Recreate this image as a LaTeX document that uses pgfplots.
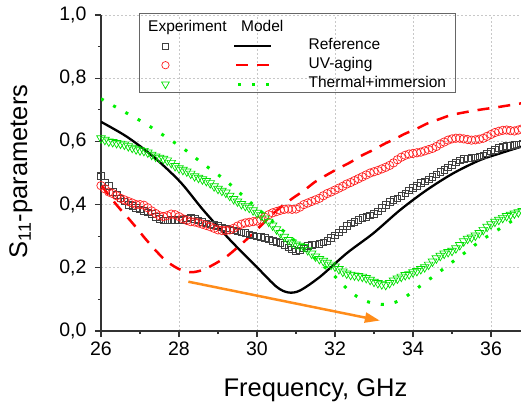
\documentclass[border=0pt]{standalone}
\usepackage{fontspec}
\setmainfont{Liberation Sans}
\usepackage{pgfplots}
\pgfplotsset{compat=1.18}
\usetikzlibrary{arrows.meta}
\definecolor{expgray}{HTML}{404040}
\definecolor{expred}{HTML}{FF2020}
\definecolor{expgreen}{HTML}{00E000}
\definecolor{modgreen}{HTML}{00F000}
\definecolor{arroworange}{HTML}{FF8C1A}
\definecolor{gridgray}{HTML}{C8C8C8}

\begin{document}
\begin{tikzpicture}
\begin{axis}[
    scale only axis,
    width=429pt, height=316pt,
    xmin=26, xmax=37, ymin=0, ymax=1,
    axis x line*=bottom, axis y line*=left,
    axis line style={-, line width=1.3pt, black!80},
    xtick={26,28,...,36}, ytick={0,0.2,...,1.0},
    minor x tick num=1, minor y tick num=1,
    tick align=outside,
    major tick length=6pt, minor tick length=3pt,
    every tick/.style={line width=1.2pt, black!80},
    grid=major,
    major grid style={gridgray, dash pattern=on 2pt off 2pt, line width=0.7pt},
    /pgf/number format/assume math mode=true,
    yticklabel style={xshift=-5pt, /pgf/number format/.cd, use comma, fixed, fixed zerofill, precision=1},
    xticklabel style={yshift=-1pt},
    ticklabel style={font=\fontsize{19.5}{20}\selectfont},
    xlabel={Frequency, GHz},
    ylabel={S\textsubscript{11}-parameters},
    label style={font=\fontsize{25.5}{26}\selectfont},
    xlabel style={at={(axis description cs:0.5,0)}, anchor=base, yshift=-65pt},
    ylabel style={at={(axis description cs:-0.1865,0.505)}, anchor=center},
    legend style={at={(rel axis cs:0.133,0.932)}, anchor=north west,
        draw=none, fill=none, inner sep=0pt, row sep=0pt, column sep=0pt,
        font=\fontsize{15.5}{16}\selectfont,
        nodes={inner sep=2pt, text height=11pt, text depth=4pt}},
    legend cell align=left,
]
% experiment: Reference
\addplot[only marks, mark=square, mark size=3.3pt, color=expgray, mark options={line width=0.8pt}, forget plot] table {
26.0 0.490
26.1 0.470
26.2 0.460
26.3 0.440
26.4 0.430
26.5 0.420
26.6 0.410
26.7 0.400
26.8 0.395
26.9 0.390
27.0 0.385
27.1 0.380
27.2 0.375
27.3 0.370
27.4 0.362
27.5 0.355
27.6 0.350
27.7 0.350
27.8 0.352
27.9 0.352
28.0 0.350
28.1 0.352
28.2 0.356
28.3 0.360
28.4 0.355
28.5 0.350
28.6 0.345
28.7 0.340
28.8 0.337
28.9 0.335
29.0 0.332
29.1 0.328
29.2 0.325
29.3 0.320
29.4 0.318
29.5 0.315
29.6 0.312
29.7 0.310
29.8 0.306
29.9 0.302
30.0 0.300
30.1 0.298
30.2 0.295
30.3 0.290
30.4 0.285
30.5 0.282
30.6 0.278
30.7 0.272
30.8 0.265
30.9 0.258
31.0 0.252
31.1 0.255
31.2 0.262
31.3 0.270
31.4 0.272
31.5 0.274
31.6 0.276
31.7 0.280
31.8 0.285
31.9 0.295
32.0 0.302
32.1 0.312
32.2 0.322
32.3 0.332
32.4 0.340
32.5 0.346
32.6 0.352
32.7 0.358
32.8 0.362
32.9 0.366
33.0 0.370
33.1 0.378
33.2 0.390
33.3 0.400
33.4 0.408
33.5 0.414
33.6 0.420
33.7 0.428
33.8 0.436
33.9 0.445
34.0 0.452
34.1 0.460
34.2 0.468
34.3 0.474
34.4 0.480
34.5 0.488
34.6 0.496
34.7 0.504
34.8 0.510
34.9 0.518
35.0 0.526
35.1 0.534
35.2 0.540
35.3 0.544
35.4 0.546
35.5 0.548
35.6 0.550
35.7 0.553
35.8 0.556
35.9 0.562
36.0 0.568
36.1 0.574
36.2 0.580
36.3 0.583
36.4 0.585
36.5 0.586
36.6 0.588
36.7 0.590
36.8 0.593
};
% experiment: UV-aging
\addplot[only marks, mark=o, mark size=4.2pt, color=expred, mark options={line width=0.7pt}, forget plot] table {
26.0 0.460
26.1 0.450
26.2 0.440
26.3 0.435
26.4 0.428
26.5 0.420
26.6 0.415
26.7 0.410
26.8 0.405
26.9 0.400
27.0 0.400
27.1 0.398
27.2 0.390
27.3 0.380
27.4 0.372
27.5 0.365
27.6 0.362
27.7 0.365
27.8 0.370
27.9 0.368
28.0 0.362
28.1 0.355
28.2 0.350
28.3 0.346
28.4 0.345
28.5 0.342
28.6 0.338
28.7 0.334
28.8 0.330
28.9 0.325
29.0 0.320
29.1 0.318
29.2 0.318
29.3 0.320
29.4 0.325
29.5 0.332
29.6 0.338
29.7 0.342
29.8 0.344
29.9 0.346
30.0 0.348
30.1 0.352
30.2 0.360
30.3 0.368
30.4 0.374
30.5 0.378
30.6 0.382
30.7 0.385
30.8 0.386
30.9 0.385
31.0 0.386
31.1 0.392
31.2 0.400
31.3 0.405
31.4 0.410
31.5 0.415
31.6 0.420
31.7 0.428
31.8 0.435
31.9 0.440
32.0 0.446
32.1 0.452
32.2 0.458
32.3 0.465
32.4 0.470
32.5 0.476
32.6 0.482
32.7 0.488
32.8 0.494
32.9 0.500
33.0 0.504
33.1 0.508
33.2 0.513
33.3 0.518
33.4 0.524
33.5 0.532
33.6 0.542
33.7 0.550
33.8 0.556
33.9 0.560
34.0 0.562
34.1 0.564
34.2 0.566
34.3 0.570
34.4 0.574
34.5 0.578
34.6 0.584
34.7 0.592
34.8 0.598
34.9 0.604
35.0 0.608
35.1 0.610
35.2 0.610
35.3 0.608
35.4 0.606
35.5 0.604
35.6 0.605
35.7 0.607
35.8 0.610
35.9 0.616
36.0 0.622
36.1 0.628
36.2 0.632
36.3 0.635
36.4 0.636
36.5 0.634
36.6 0.633
36.7 0.636
36.8 0.640
};
% experiment: Thermal+immersion
\addplot[only marks, mark=triangle, mark size=5pt, color=expgreen, mark options={rotate=180, line width=0.7pt}, forget plot] table {
26.0 0.610
26.1 0.605
26.2 0.600
26.3 0.598
26.4 0.595
26.5 0.593
26.6 0.590
26.7 0.585
26.8 0.580
26.9 0.575
27.0 0.572
27.1 0.570
27.2 0.565
27.3 0.558
27.4 0.552
27.5 0.548
27.6 0.545
27.7 0.540
27.8 0.532
27.9 0.522
28.0 0.515
28.1 0.510
28.2 0.505
28.3 0.498
28.4 0.490
28.5 0.485
28.6 0.480
28.7 0.475
28.8 0.468
28.9 0.458
29.0 0.450
29.1 0.444
29.2 0.438
29.3 0.428
29.4 0.418
29.5 0.410
29.6 0.402
29.7 0.396
29.8 0.390
29.9 0.382
30.0 0.374
30.1 0.366
30.2 0.356
30.3 0.346
30.4 0.334
30.5 0.322
30.6 0.310
30.7 0.298
30.8 0.288
30.9 0.280
31.0 0.274
31.1 0.270
31.2 0.266
31.3 0.256
31.4 0.245
31.5 0.236
31.6 0.228
31.7 0.222
31.8 0.216
31.9 0.210
32.0 0.204
32.1 0.196
32.2 0.188
32.3 0.182
32.4 0.178
32.5 0.176
32.6 0.174
32.7 0.172
32.8 0.168
32.9 0.162
33.0 0.156
33.1 0.152
33.2 0.148
33.3 0.146
33.4 0.152
33.5 0.160
33.6 0.166
33.7 0.172
33.8 0.177
33.9 0.180
34.0 0.186
34.1 0.190
34.2 0.196
34.3 0.202
34.4 0.210
34.5 0.220
34.6 0.230
34.7 0.238
34.8 0.245
34.9 0.250
35.0 0.254
35.1 0.262
35.2 0.272
35.3 0.284
35.4 0.292
35.5 0.296
35.6 0.302
35.7 0.310
35.8 0.320
35.9 0.330
36.0 0.338
36.1 0.346
36.2 0.352
36.3 0.358
36.4 0.364
36.5 0.368
36.6 0.372
36.7 0.376
36.8 0.380
};
% model: Reference
\addplot[black, line width=2.3pt, smooth, forget plot] coordinates {
(26.0,0.662) (26.66,0.615) (27.34,0.552) (28.03,0.472) (28.62,0.383)
(29.31,0.288) (29.99,0.203) (30.5,0.140) (30.8,0.122) (31.1,0.128)
(31.62,0.172) (32.3,0.246) (32.98,0.309) (33.67,0.383) (34.35,0.446)
(35.03,0.499) (35.72,0.541) (36.23,0.562) (36.77,0.583) (37.0,0.590)
};
% model: UV-aging
\addplot[red, line width=2.5pt, smooth, dash pattern=on 12pt off 9pt, forget plot] coordinates {
(26.0,0.462) (26.2,0.430) (26.44,0.393) (26.7,0.357) (26.92,0.325)
(27.13,0.293) (27.43,0.251) (27.68,0.221) (28.0,0.196) (28.3,0.186)
(28.58,0.192) (28.84,0.207) (29.18,0.232) (29.44,0.258) (29.78,0.295)
(30.03,0.325) (30.42,0.372) (30.65,0.396) (30.97,0.425) (31.19,0.443)
(31.49,0.472) (31.79,0.494) (32.08,0.514) (32.38,0.533) (32.68,0.555)
(32.98,0.573) (33.28,0.593) (33.54,0.608) (33.79,0.624) (34.09,0.640)
(34.39,0.658) (34.69,0.671) (35.0,0.684) (35.6,0.698) (36.2,0.709)
(36.8,0.721) (37.0,0.725)
};
% model: Thermal+immersion
\addplot[modgreen, line width=3pt, smooth, dash pattern=on 3pt off 11pt, forget plot] coordinates {
(26.0,0.735) (26.36,0.710) (26.74,0.684) (27.13,0.657) (27.43,0.633)
(27.79,0.604) (28.14,0.575) (28.45,0.545) (28.84,0.509) (29.18,0.478)
(29.52,0.441) (29.86,0.404) (30.21,0.367) (30.55,0.330) (31.0,0.282)
(31.5,0.228) (31.96,0.177) (32.3,0.135) (32.64,0.103) (33.0,0.087)
(33.37,0.085) (33.71,0.100) (34.05,0.130) (34.39,0.161) (34.74,0.193)
(35.08,0.225) (35.42,0.256) (35.76,0.288) (36.10,0.314) (36.44,0.341)
(36.74,0.362) (37.0,0.378)
};
\draw[arroworange, line width=2.5pt, -{Triangle[length=15pt, width=10pt]}]
    (axis cs:28.24,0.156) -- (axis cs:33.15,0.033);
% legend rows: experiment mark, model line, name
\addlegendimage{legend image code/.code={
    \draw[expgray, line width=0.8pt] plot[only marks, mark=square, mark size=2.9pt] coordinates {(0pt,0pt)};
    \draw[black, line width=2.3pt] (69pt,0pt) -- (106pt,0pt);
    \path (-7pt,0pt) (141pt,0pt);}}
\addlegendentry{Reference}
\addlegendimage{legend image code/.code={
    \draw[expred, line width=0.7pt] plot[only marks, mark=o, mark size=3.7pt] coordinates {(0pt,0pt)};
    \draw[red, line width=2.5pt, dash pattern=on 12pt off 9pt] (71pt,0pt) -- (105pt,0pt);
    \path (-7pt,0pt) (141pt,0pt);}}
\addlegendentry{UV-aging}
\addlegendimage{legend image code/.code={
    \draw[expgreen, line width=0.7pt] plot[only marks, mark=triangle, mark size=4.5pt, mark options={rotate=180}] coordinates {(0pt,0pt)};
    \draw[modgreen, line width=3pt, dash pattern=on 3pt off 11pt] (73pt,0pt) -- (106pt,0pt);
    \path (-7pt,0pt) (141pt,0pt);}}
\addlegendentry{Thermal+immersion}
\end{axis}
\draw[black!60, line width=0.9pt] (38pt,239pt) rectangle (354pt,318pt);
\node[anchor=base west, inner sep=0pt, font=\fontsize{15.5}{16}\selectfont] at (47pt,299pt) {Experiment};
\node[anchor=base west, inner sep=0pt, font=\fontsize{15.5}{16}\selectfont] at (140pt,299pt) {Model};
\pgfresetboundingbox
\path (-101pt,-73pt) rectangle (420pt,331pt);
\end{tikzpicture}
\end{document}
